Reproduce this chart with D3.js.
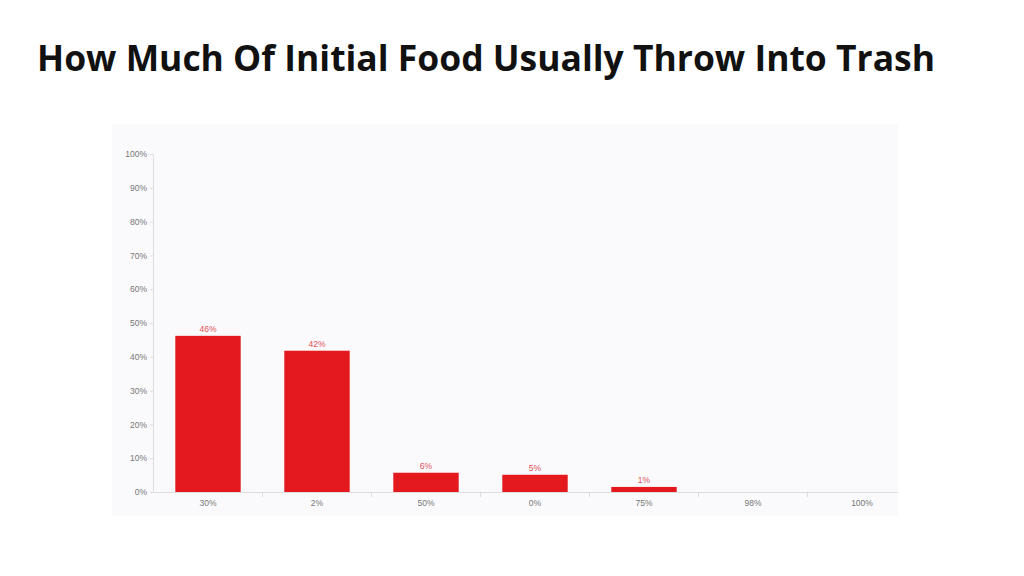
<!DOCTYPE html><html><head><script src="https://d3js.org/d3.v7.min.js"></script>
<style>body{margin:0;background:#fff}</style></head><body><svg width="1024" height="576"></svg>
<script>
const categories=["30%","2%","50%","0%","75%","98%","100%"];
const values=[46.2,41.8,5.7,5.1,1.5,0,0];
const labels=["46%","42%","6%","5%","1%","",""];
const yTicks=[0,10,20,30,40,50,60,70,80,90,100];
const svg=d3.select("svg");
svg.append("text").attr("x",37).attr("y",71).attr("font-family","Open Sans, sans-serif").attr("font-weight","bold").attr("font-size",35).attr("textLength",898).attr("lengthAdjust","spacingAndGlyphs").attr("fill","#111").text("How Much Of Initial Food Usually Throw Into Trash");
svg.append("rect").attr("x",112).attr("y",124).attr("width",786).attr("height",392).attr("fill","#fafafc");
svg.append("clipPath").attr("id","c").append("rect").attr("x",100).attr("y",100).attr("width",798).attr("height",430);
const g=svg.append("g").attr("clip-path","url(#c)");
const x=d3.scaleBand().domain(categories).range([153.5,916.5]).paddingInner(0.4).paddingOuter(0.2);
const y=d3.scaleLinear().domain([0,100]).range([492,154]);
const ya=g.append("g").attr("transform","translate(153,0)").call(d3.axisLeft(y).tickValues(yTicks).tickFormat(d=>d+"%").tickSize(3));
ya.selectAll("text").attr("fill","#777").attr("font-size",8.5).attr("font-family","Liberation Sans, sans-serif");
ya.selectAll("line,path").attr("stroke","#ddd");
const xa=g.append("g").attr("transform","translate(0,492)").call(d3.axisBottom(x).tickSize(0).tickPadding(8));
xa.selectAll("text").attr("fill","#777").attr("font-size",8.5).attr("font-family","Liberation Sans, sans-serif");
xa.select("path").attr("stroke","#ddd");
const step=x.step();
g.append("g").selectAll("line").data(categories.slice(1)).join("line")
 .attr("x1",d=>x(d)-step*0.2).attr("x2",d=>x(d)-step*0.2).attr("y1",492).attr("y2",497).attr("stroke","#ddd");
g.append("g").selectAll("rect").data(values).join("rect")
 .attr("x",(d,i)=>x(categories[i])).attr("width",x.bandwidth()).attr("y",d=>y(d)).attr("height",d=>492-y(d)).attr("fill","#e3191e");
g.append("g").selectAll("text").data(values).join("text")
 .attr("x",(d,i)=>x(categories[i])+x.bandwidth()/2).attr("y",d=>y(d)-4).attr("text-anchor","middle")
 .attr("font-size",8.5).attr("font-family","Liberation Sans, sans-serif").attr("fill","#e0505a").text((d,i)=>labels[i]);
</script></body></html>
